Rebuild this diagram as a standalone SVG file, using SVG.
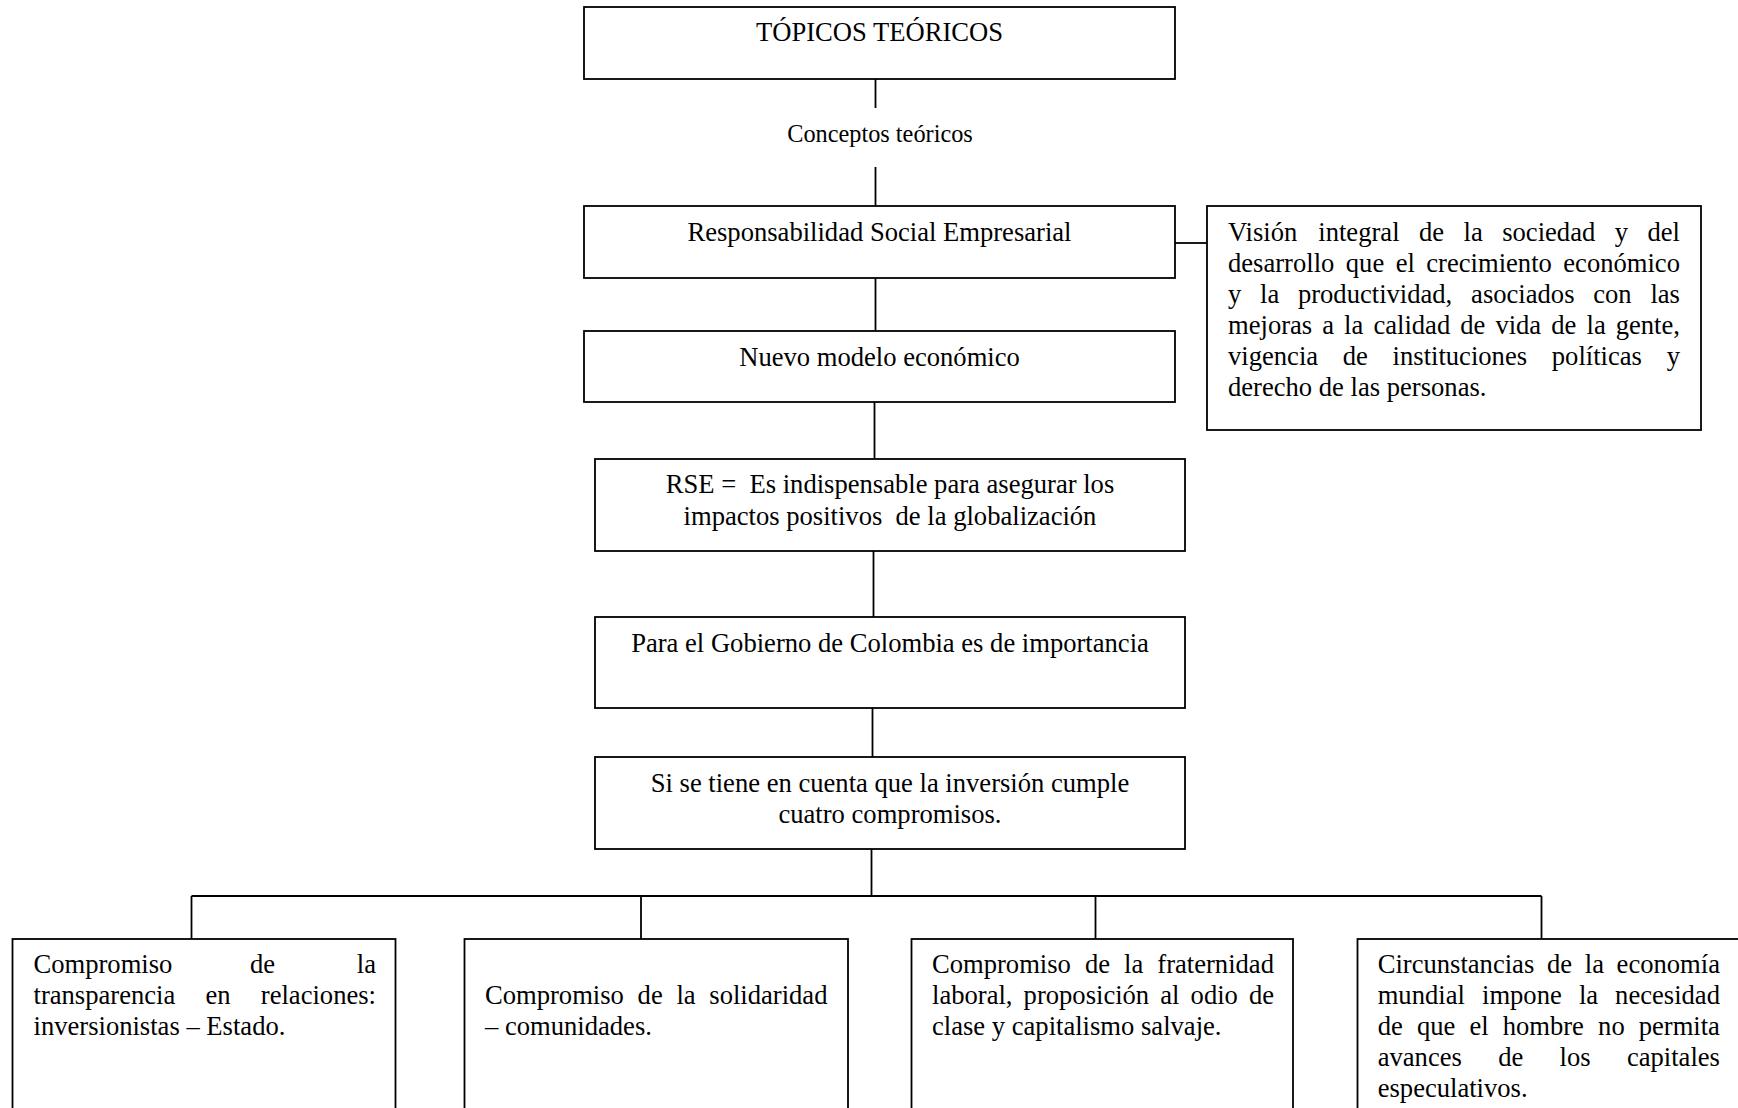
<svg xmlns="http://www.w3.org/2000/svg" width="1738" height="1108" viewBox="0 0 1738 1108">
  <style>
    .box { fill: #ffffff; stroke: #000000; stroke-width: 1.8; }
    .wire { fill: none; stroke: #000000; stroke-width: 1.8; }
    .t { font-family: "Liberation Serif", "Times New Roman", serif; font-size: 26.6px; fill: #000000; }
    .c { text-anchor: middle; }
    .small { font-size: 24.3px; }
    .pre { white-space: pre; }
  </style>
  <rect x="0" y="0" width="1738" height="1108" fill="#ffffff"/>

  <!-- connectors -->
  <g id="connectors">
    <line class="wire" x1="875.5" y1="79" x2="875.5" y2="108"/>
    <line class="wire" x1="875.5" y1="167" x2="875.5" y2="206"/>
    <line class="wire" x1="875.5" y1="278" x2="875.5" y2="331"/>
    <line class="wire" x1="874.5" y1="402" x2="874.5" y2="459"/>
    <line class="wire" x1="873.5" y1="551" x2="873.5" y2="617"/>
    <line class="wire" x1="872.5" y1="708" x2="872.5" y2="757"/>
    <line class="wire" x1="871.5" y1="849" x2="871.5" y2="896"/>
    <line class="wire" x1="1175" y1="243" x2="1207" y2="243"/>
    <line class="wire" x1="191.5" y1="896" x2="1541.5" y2="896"/>
    <line class="wire" x1="191.5" y1="896" x2="191.5" y2="939"/>
    <line class="wire" x1="641" y1="896" x2="641" y2="939"/>
    <line class="wire" x1="1095.5" y1="896" x2="1095.5" y2="939"/>
    <line class="wire" x1="1541.5" y1="896" x2="1541.5" y2="939"/>
  </g>

  <g id="topicos">
    <rect class="box" x="584" y="7" width="591" height="72"/>
    <text class="t c" x="879.5" y="41">TÓPICOS TEÓRICOS</text>
  </g>

  <g id="conceptos">
    <text class="t c small" x="880" y="142">Conceptos teóricos</text>
  </g>

  <g id="rse">
    <rect class="box" x="584" y="206" width="591" height="72"/>
    <text class="t c" x="879.5" y="241">Responsabilidad Social Empresarial</text>
  </g>

  <g id="vision">
    <rect class="box" x="1207" y="206" width="494" height="224"/>
    <text class="t" y="240.5"><tspan x="1228">Visión</tspan><tspan x="1318.3">integral</tspan><tspan x="1419">de</tspan><tspan x="1463.6">la</tspan><tspan x="1502.2">sociedad</tspan><tspan x="1614.7">y</tspan><tspan x="1647.5">del</tspan></text>
    <text class="t" y="271.6"><tspan x="1228">desarrollo</tspan><tspan x="1345.8">que</tspan><tspan x="1395.7">el</tspan><tspan x="1426.3">crecimiento</tspan><tspan x="1563.3">económico</tspan></text>
    <text class="t" y="302.6"><tspan x="1228">y</tspan><tspan x="1260">la</tspan><tspan x="1297.9">productividad,</tspan><tspan x="1471.1">asociados</tspan><tspan x="1593.2">con</tspan><tspan x="1650.4">las</tspan></text>
    <text class="t" y="333.6"><tspan x="1228">mejoras</tspan><tspan x="1322.3">a</tspan><tspan x="1344.1">la</tspan><tspan x="1373.4">calidad</tspan><tspan x="1460.3">de</tspan><tspan x="1495.4">vida</tspan><tspan x="1551.3">de</tspan><tspan x="1586.5">la</tspan><tspan x="1615.7">gente,</tspan></text>
    <text class="t" y="364.7"><tspan x="1228">vigencia</tspan><tspan x="1342.8">de</tspan><tspan x="1392.6">instituciones</tspan><tspan x="1551.8">políticas</tspan><tspan x="1666.7">y</tspan></text>
    <text class="t" x="1228" y="395.7">derecho de las personas.</text>
  </g>

  <g id="modelo">
    <rect class="box" x="584" y="331" width="591" height="71"/>
    <text class="t c" x="879.5" y="366">Nuevo modelo económico</text>
  </g>

  <g id="rse-def">
    <rect class="box" x="595" y="459" width="590" height="92"/>
    <text class="t c pre" x="890" y="493">RSE =  Es indispensable para asegurar los</text>
    <text class="t c pre" x="890" y="524.5">impactos positivos  de la globalización</text>
  </g>

  <g id="gobierno">
    <rect class="box" x="595" y="617" width="590" height="91"/>
    <text class="t c" x="890" y="652">Para el Gobierno de Colombia es de importancia</text>
  </g>

  <g id="inversion">
    <rect class="box" x="595" y="757" width="590" height="92"/>
    <text class="t c" x="890" y="791.5">Si se tiene en cuenta que la inversión cumple</text>
    <text class="t c" x="890" y="822.5">cuatro compromisos.</text>
  </g>

  <g id="transparencia">
    <rect class="box" x="12.5" y="939" width="383" height="190"/>
    <text class="t" y="973.2"><tspan x="33.5">Compromiso</tspan><tspan x="250">de</tspan><tspan x="356.8">la</tspan></text>
    <text class="t" y="1004.2"><tspan x="33.5">transparencia</tspan><tspan x="205.5">en</tspan><tspan x="260.8">relaciones:</tspan></text>
    <text class="t" x="33.5" y="1035.3">inversionistas – Estado.</text>
  </g>

  <g id="solidaridad">
    <rect class="box" x="464.5" y="939" width="383.5" height="190"/>
    <text class="t" y="1004.2"><tspan x="485">Compromiso</tspan><tspan x="637.6">de</tspan><tspan x="676.4">la</tspan><tspan x="709.3">solidaridad</tspan></text>
    <text class="t" x="485" y="1035.3">– comunidades.</text>
  </g>

  <g id="fraternidad">
    <rect class="box" x="911.5" y="939" width="381.5" height="190"/>
    <text class="t" y="973.2"><tspan x="932">Compromiso</tspan><tspan x="1084.9">de</tspan><tspan x="1124">la</tspan><tspan x="1157.3">fraternidad</tspan></text>
    <text class="t" y="1004.2"><tspan x="932">laboral,</tspan><tspan x="1023.6">proposición</tspan><tspan x="1160.3">al</tspan><tspan x="1190.6">odio</tspan><tspan x="1248.9">de</tspan></text>
    <text class="t" x="932" y="1035.3">clase y capitalismo salvaje.</text>
  </g>

  <g id="circunstancias">
    <rect class="box" x="1357.5" y="939" width="383" height="190"/>
    <text class="t" y="973.2"><tspan x="1377.7">Circunstancias</tspan><tspan x="1547">de</tspan><tspan x="1584.8">la</tspan><tspan x="1616.6">economía</tspan></text>
    <text class="t" y="1004.2"><tspan x="1377.7">mundial</tspan><tspan x="1482">impone</tspan><tspan x="1578.9">la</tspan><tspan x="1615.1">necesidad</tspan></text>
    <text class="t" y="1035.3"><tspan x="1377.7">de</tspan><tspan x="1416.9">que</tspan><tspan x="1469.4">el</tspan><tspan x="1502.7">hombre</tspan><tspan x="1598.1">no</tspan><tspan x="1638.7">permita</tspan></text>
    <text class="t" y="1066.3"><tspan x="1377.7">avances</tspan><tspan x="1498.2">de</tspan><tspan x="1559.6">los</tspan><tspan x="1626.9">capitales</tspan></text>
    <text class="t" x="1377.7" y="1097.3">especulativos.</text>
  </g>
</svg>
